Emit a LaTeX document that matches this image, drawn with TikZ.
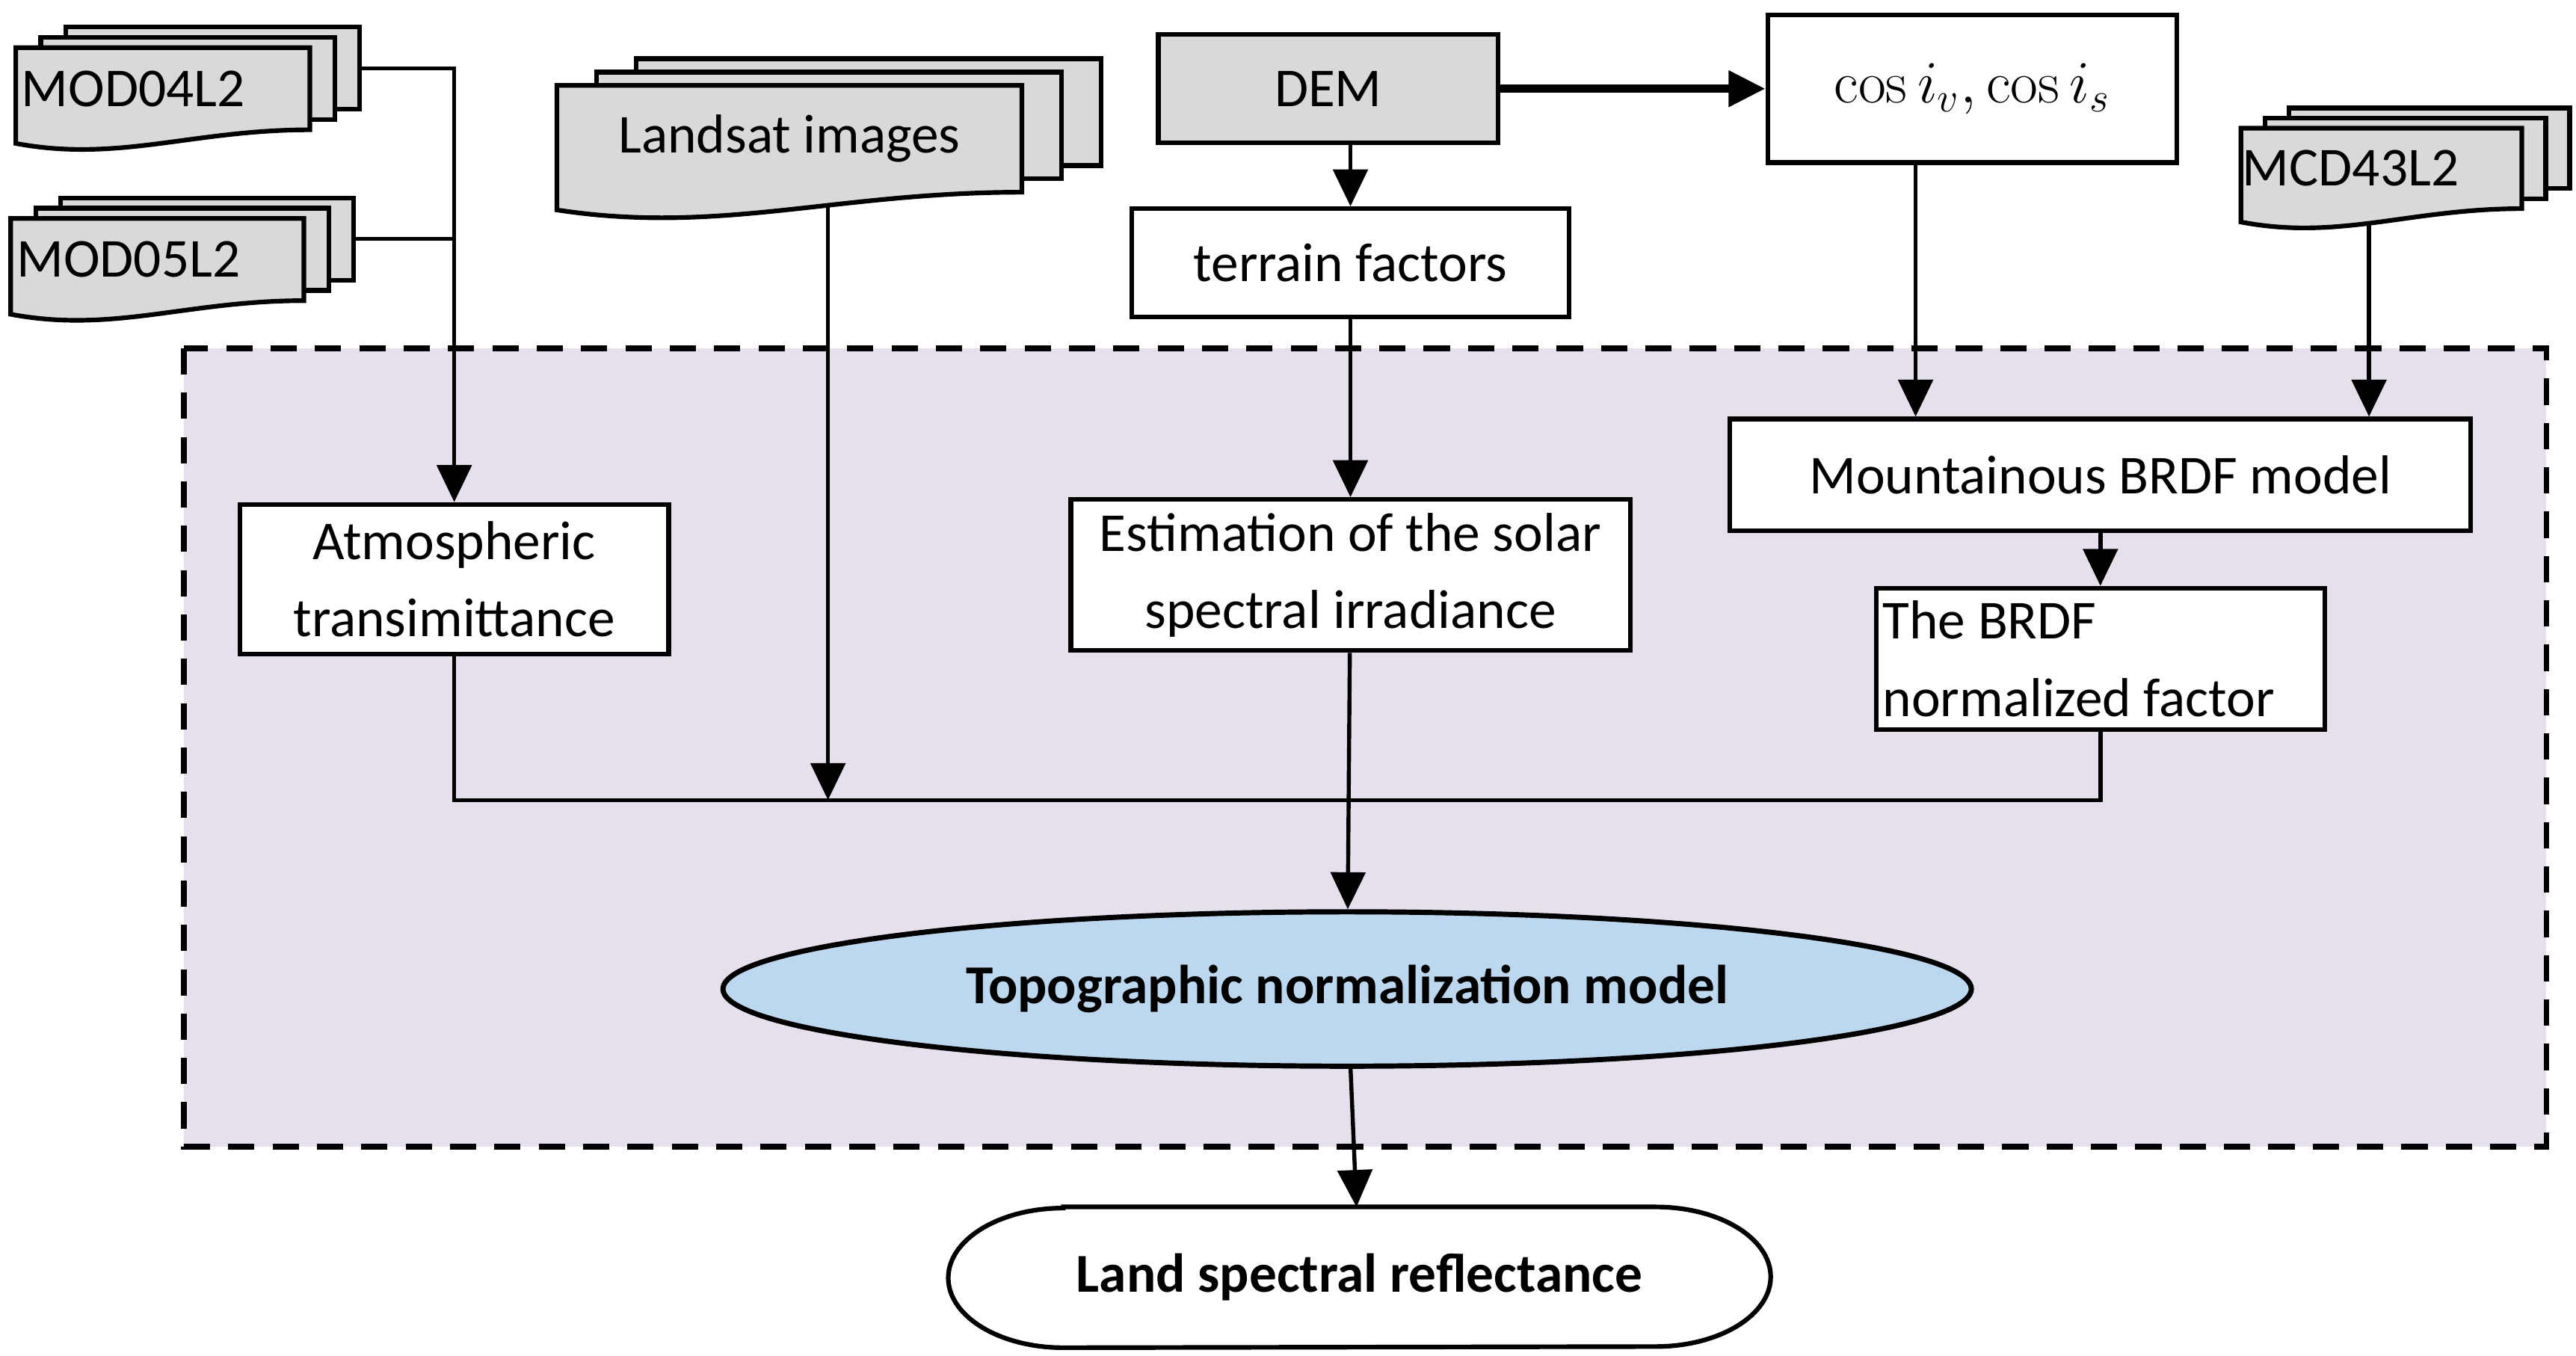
\documentclass[tikz,border=0pt]{standalone}
\usepackage[no-math]{fontspec}
\setmainfont{Carlito}
\usetikzlibrary{shapes.geometric,arrows.meta,backgrounds}
\definecolor{docgray}{HTML}{D9D9D9}
\definecolor{lav}{HTML}{E6E0EC}
\definecolor{modelblue}{HTML}{BDD7EE}
\newcommand{\docstack}[7]{%
  \begin{scope}[shift={(#2,#3)}]
    \foreach \k in {2,1}
      \draw[sheet] ({\k*0.085*#4},{-\k*0.125*#5}) rectangle ({#4+\k*0.085*#4},{#5-\k*0.125*#5});
    \draw[sheet] (0,0) -- (#4,0) -- (#4,#5) .. controls ({0.6*#4},#5) and ({0.35*#4},{1.4*#5}) .. (0,{1.166*#5}) -- cycle;
    \node(#1) [docarea, minimum width={#4*0.02cm}, minimum height={#5*0.02cm}, #6] at ({#4/2},{#5/2}) {#7};
    \coordinate(#1-e) at ({1.17*#4},{0.25*#5});
  \end{scope}}

\begin{document}
\begin{tikzpicture}[x=0.02cm, y=-0.02cm, font=\fontsize{19}{26.7}\selectfont,
    sheet/.style={draw, fill=docgray, line width=1.6pt},
    docarea/.style={rectangle, inner sep=0pt},
    proc/.style={draw, fill=white, line width=1.6pt, rectangle, inner sep=0pt, align=center},
    conn/.style={line width=1.4pt},
    arr/.style={conn, -{Triangle[length=0.45cm, width=0.42cm]}}]
    \useasboundingbox (0,0) rectangle (1568,825);
    \begin{scope}[on background layer]
        \fill[lav] (112,212) rectangle (1550,698);
    \end{scope}
    \draw[line width=2pt, dash pattern=on 0.32cm off 0.22cm] (112,212) rectangle (1550,698);

    \docstack{M1}{9.6}{29}{179}{50}{text width=3.44cm, align=flush left}{MOD04L2}
    \docstack{M2}{6.5}{133}{178.5}{50}{text width=3.42cm, align=flush left}{MOD05L2}
    \docstack{L}{339}{52}{283}{65}{}{Landsat images}
    \docstack{M3}{1364}{78}{171}{49}{text width=3.38cm, align=flush left}{MCD43L2}

    \node(D) [proc, fill=docgray, minimum width=4.14cm, minimum height=1.32cm] at (808.5,54) {DEM};
    \node(C) [proc, minimum width=4.98cm, minimum height=1.8cm, font=\fontsize{22}{26}\selectfont] at (1200.5,54) {$\cos i_v, \cos i_s$};
    \node(T) [proc, minimum width=5.32cm, minimum height=1.32cm] at (822,160) {terrain factors};
    \node(A) [proc, minimum width=5.22cm, minimum height=1.82cm] at (276.5,352.5) {Atmospheric\\transimittance};
    \node(E) [proc, minimum width=6.81cm, minimum height=1.84cm] at (822,350) {Estimation of the solar\\spectral irradiance};
    \node(B1) [proc, minimum width=9.02cm, minimum height=1.36cm] at (1278.5,289) {Mountainous BRDF model};
    \node(B2) [proc, minimum width=5.46cm, minimum height=1.72cm, text width=5.3cm, align=flush left] at (1278.5,401) {The BRDF\\normalized factor};
    \node(N) [ellipse, draw, fill=modelblue, line width=1.8pt, minimum width=15.2cm, minimum height=1.88cm, font=\fontsize{19}{23}\selectfont\bfseries] at (820,602) {Topographic normalization model};
    \node(R) [docarea, minimum width=10cm, minimum height=1.7cm, font=\fontsize{19}{23}\selectfont\bfseries] at (827.5,777.5) {Land spectral reflectance};
    \coordinate(J) at (822,487);
    \coordinate(c1) at ([xshift=0.47cm]L.south);
    \coordinate(c2) at ([xshift=-0.69cm]C.south);
    \coordinate(c3) at ([xshift=-0.15cm]M3.south);

    \begin{scope}[on background layer]
        \draw[fill=white, line width=1.6pt] ([xshift=1.4cm]R.north west) -- ([xshift=-1.4cm]R.north east)
            arc[start angle=90, end angle=-90, x radius=1.4cm, y radius=0.85cm] -- ([xshift=1.4cm]R.south west)
            arc[start angle=270, end angle=90, x radius=1.4cm, y radius=0.85cm] -- cycle;
        \draw[arr] (M1-e) -| (A);
        \draw[conn] (M2-e) -- (M2-e -| A);
        \draw[arr] (c1) -- (c1 |- J);
        \draw[arr, line width=3pt] (D) -- (C);
        \draw[arr] (D.south -| T) -- (T);
        \draw[arr] (T) -- (E);
        \draw[arr] (c2) -- (c2 |- B1.north);
        \draw[arr] (c3) -- (c3 |- B1.north);
        \draw[arr] (B1) -- (B2);
        \draw[conn] (A) |- (J) -| (B2);
        \draw[arr] (E) -- (N);
        \draw[arr] (N) -- (R);
    \end{scope}
\end{tikzpicture}
\end{document}
